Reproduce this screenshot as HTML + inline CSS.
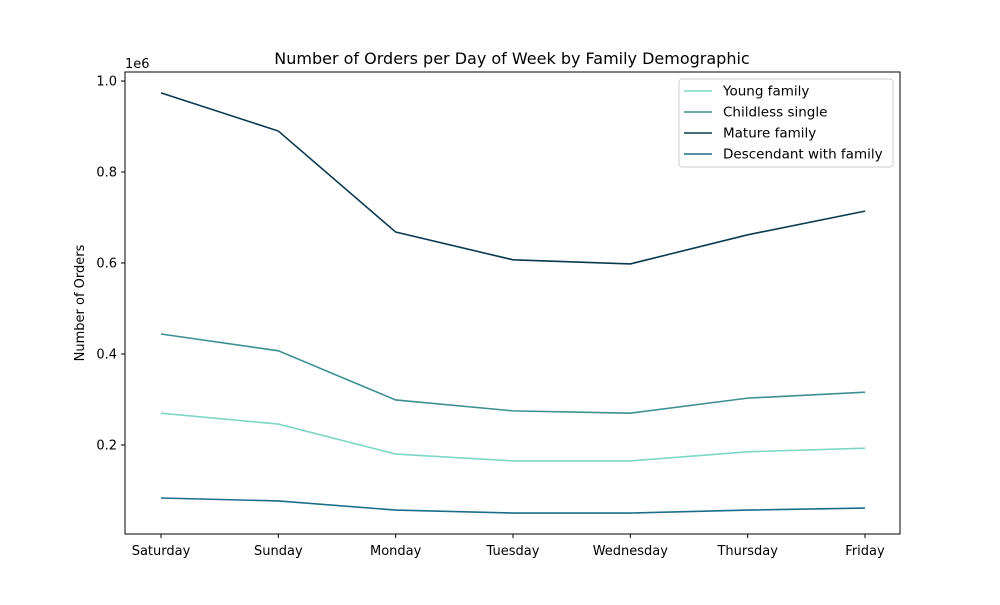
<!DOCTYPE html>
<html><head><meta charset="utf-8"><style>body{margin:0;background:#fff}svg{font-family:"DejaVu Sans","Liberation Sans",sans-serif}</style></head>
<body>
<svg id="chart" width="1000" height="600">
<rect width="1000" height="600" fill="#fff"/>
<text x="512" y="64" text-anchor="middle" font-size="16">Number of Orders per Day of Week by Family Demographic</text>
<text transform="translate(84,303) rotate(-90)" text-anchor="middle" font-size="13">Number of Orders</text>
<text x="125" y="68" font-size="13">1e6</text>
<g id="plot"></g>
<rect x="125" y="72" width="775" height="462" fill="none" stroke="#000" stroke-width="1"/>
<g>
<rect x="679" y="79" width="214" height="88" fill="#fff" stroke="#ccc" rx="3"/>
<g id="legend"></g>
</g>
</svg>
<script>
const days = ["Saturday","Sunday","Monday","Tuesday","Wednesday","Thursday","Friday"];
const seriesNames = ["Young family","Childless single","Mature family","Descendant with family"];
const youngFamily = [0.270,0.246,0.180,0.165,0.165,0.185,0.193];
const childlessSingle = [0.444,0.407,0.299,0.275,0.270,0.303,0.316];
const matureFamily = [0.974,0.890,0.668,0.607,0.598,0.662,0.714];
const descendantFamily = [0.0835,0.077,0.057,0.0505,0.0505,0.057,0.0615];
const yTicks = [0.2,0.4,0.6,0.8,1.0];
const yTickLabels = ["0.2","0.4","0.6","0.8","1.0"];
const colors = ["#7dd6c6","#3d8f92","#0b3a4e","#1a6e8a"];
const NS="http://www.w3.org/2000/svg";
const xS = i => 161 + i*(865-161)/(days.length-1);
const yS = v => 536 - v*455;
const plot=document.getElementById('plot');
function mk(t,a,p){const e=document.createElementNS(NS,t);for(const k in a)e.setAttribute(k,a[k]);(p||plot).appendChild(e);return e;}
days.forEach((d,i)=>{
  const t=mk('line',{x1:xS(i),x2:xS(i),y1:534,y2:538,stroke:'#000'});
  
  
  const l=mk('text',{x:xS(i),y:555,'text-anchor':'middle','font-size':13});l.textContent=d;
  
  
});
yTicks.forEach((v,i)=>{
  const t=mk('line',{x1:121,x2:125,y1:yS(v),y2:yS(v),stroke:'#000'});
  
  
  const l=mk('text',{x:117,y:yS(v)+4.5,'text-anchor':'end','font-size':13});l.textContent=yTickLabels[i];
  
  
});
const all=[youngFamily,childlessSingle,matureFamily,descendantFamily];
all.forEach((s,k)=>{
  const p=mk('polyline',{points:s.map((v,i)=>xS(i)+','+yS(v)).join(' '),fill:'none',stroke:colors[k],'stroke-width':1.6});
  
  
});
const lg=document.getElementById('legend');
seriesNames.forEach((n,k)=>{
  const y=91+k*21;
  const l=mk('line',{x1:684,x2:712,y1:y,y2:y,stroke:colors[k],'stroke-width':1.6},lg);
  
  
  const t=mk('text',{x:723,y:y+4.5,'font-size':13.5},lg);t.textContent=n;
  
  
});
</script>
</body></html>
